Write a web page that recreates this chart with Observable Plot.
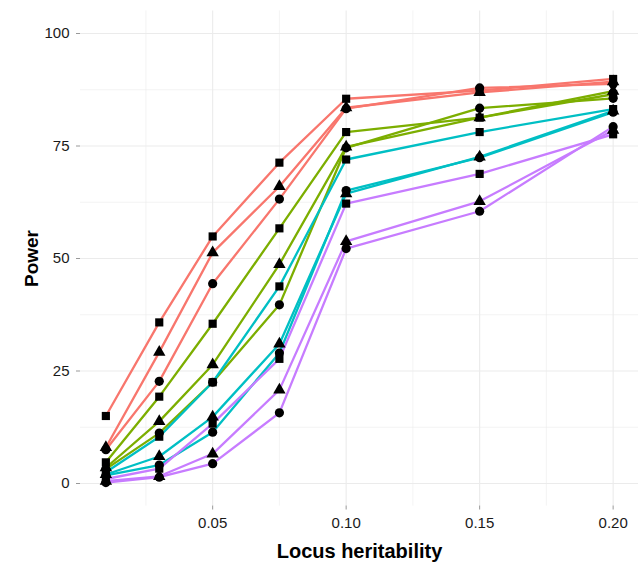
<!DOCTYPE html>
<html>
<head>
<meta charset="utf-8">
<script src="https://cdn.jsdelivr.net/npm/d3@7"></script>
<script src="https://cdn.jsdelivr.net/npm/@observablehq/plot@0.6"></script>
<style>
  html, body { margin: 0; padding: 0; background: #fff; }
  #chart svg { display: block; }
</style>
</head>
<body>
<div id="chart"></div>
<script>
// x values (locus heritability)
const heritability = [0.01, 0.03, 0.05, 0.075, 0.10, 0.15, 0.20];
const xTicks = [0.05, 0.10, 0.15, 0.20];
const xMinor = [0.025, 0.075, 0.125, 0.175];
const yTicks = [0, 25, 50, 75, 100];
const yMinor = [12.5, 37.5, 62.5, 87.5];

// series groups (colour) and marker types (shape)
const groups = ["Group 1", "Group 2", "Group 3", "Group 4"];
const groupColors = ["#F8766D", "#7CAE00", "#00BFC4", "#C77CFF"];
const markers = ["square", "triangle", "circle"];

// power values (%) per group and marker
const group1Square   = [15.0, 35.8, 54.9, 71.3, 85.5, 87.3, 89.9];
const group1Triangle = [8.0, 29.2, 51.3, 66.0, 83.5, 86.9, 89.3];
const group1Circle   = [7.5, 22.7, 44.4, 63.2, 83.3, 87.9, 88.8];

const group2Square   = [4.7, 19.3, 35.5, 56.7, 78.1, 81.3, 86.5];
const group2Triangle = [3.5, 13.8, 26.4, 48.7, 74.8, 81.3, 87.2];
const group2Circle   = [3.2, 11.2, 22.5, 39.7, 74.6, 83.4, 85.6];

const group3Square   = [2.5, 10.4, 22.5, 43.8, 72.0, 78.1, 83.2];
const group3Triangle = [2.0, 6.0, 14.8, 31.0, 64.4, 72.6, 82.8];
const group3Circle   = [1.8, 4.1, 11.4, 29.0, 65.1, 72.4, 82.5];

const group4Square   = [1.0, 3.3, 13.3, 27.7, 62.2, 68.8, 77.6];
const group4Triangle = [0.5, 1.6, 6.6, 20.8, 53.8, 62.7, 78.5];
const group4Circle   = [0.2, 1.4, 4.4, 15.7, 52.2, 60.5, 79.3];

const seriesTable = [
  [group1Square, group1Triangle, group1Circle],
  [group2Square, group2Triangle, group2Circle],
  [group3Square, group3Triangle, group3Circle],
  [group4Square, group4Triangle, group4Circle]
];

const data = [];
groups.forEach((g, gi) => {
  markers.forEach((m, mi) => {
    seriesTable[gi][mi].forEach((v, i) => {
      data.push({group: g, marker: m, series: g + " " + m, h: heritability[i], power: v});
    });
  });
});

const font = "'Liberation Sans', Arial, sans-serif";
const gridColor = "#ebebeb";

const chart = Plot.plot({
  width: 640,
  height: 564,
  marginLeft: 80,
  marginRight: 2,
  marginTop: 10.5,
  marginBottom: 58.5,
  style: {fontFamily: font, background: "#fff", color: "#1a1a1a"},
  x: {domain: [0.0005, 0.2095]},
  y: {domain: [-5, 105]},
  color: {domain: groups, range: groupColors},
  symbol: {domain: markers, range: ["square", "triangle", "circle"]},
  marks: [
    Plot.gridX(xMinor, {stroke: gridColor, strokeOpacity: 1, strokeWidth: 0.6}),
    Plot.gridY(yMinor, {stroke: gridColor, strokeOpacity: 1, strokeWidth: 0.6}),
    Plot.gridX(xTicks, {stroke: gridColor, strokeOpacity: 1, strokeWidth: 1.1}),
    Plot.gridY(yTicks, {stroke: gridColor, strokeOpacity: 1, strokeWidth: 1.1}),
    Plot.axisX({ticks: xTicks, tickFormat: d3.format(".2f"), tickSize: 4, tickPadding: 7,
                fontSize: 15, stroke: "#999", color: "#1a1a1a", label: null}),
    Plot.axisY({ticks: yTicks, tickFormat: d3.format("d"), tickSize: 4, tickPadding: 7,
                fontSize: 15, stroke: "#999", color: "#1a1a1a", label: null}),
    Plot.line(data, {x: "h", y: "power", z: "series", stroke: "group", strokeWidth: 2.3}),
    Plot.dot(data, {x: "h", y: "power", symbol: "marker", fill: "#000", stroke: null, r: 4.6}),
    Plot.text(["Locus heritability"], {frameAnchor: "bottom", lineAnchor: "middle", textAnchor: "middle",
                dy: 46, fontSize: 20, fontWeight: "bold", fill: "#000"}),
    Plot.text(["Power"], {frameAnchor: "left", lineAnchor: "middle", textAnchor: "middle",
                dx: -49, rotate: -90, fontSize: 19, fontWeight: "bold", fill: "#000"})
  ]
});

document.getElementById("chart").appendChild(chart);
</script>
</body>
</html>
